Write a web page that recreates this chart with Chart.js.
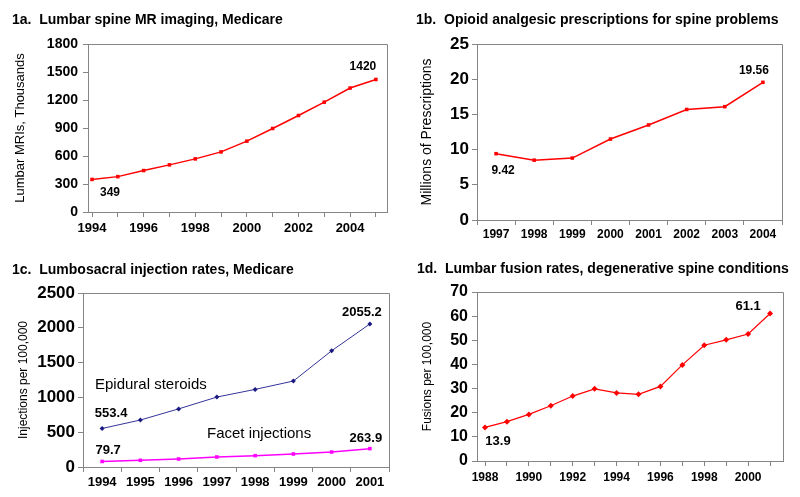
<!DOCTYPE html>
<html>
<head>
<meta charset="utf-8">
<script src="https://cdn.jsdelivr.net/npm/chart.js@4/dist/chart.umd.min.js"></script>
<style>
  body { margin: 0; background: #fff; }
  #wrap { position: relative; width: 800px; height: 497px; overflow: hidden; font-family: "Liberation Sans", Arial, sans-serif; }
  canvas { position: absolute; }
  .ttl { position: absolute; font-weight: bold; font-size: 14px; line-height: 18px; white-space: pre; color: #000; }
  .note { position: absolute; font-size: 15px; line-height: 18px; white-space: pre; color: #000; }
</style>
</head>
<body>
<div id="wrap">
  <canvas id="c1a" width="400" height="248" style="left:0;top:0"></canvas>
  <canvas id="c1b" width="400" height="248" style="left:400px;top:0"></canvas>
  <canvas id="c1c" width="400" height="249" style="left:0;top:248px"></canvas>
  <canvas id="c1d" width="400" height="249" style="left:400px;top:248px"></canvas>
  <div class="ttl" style="left:12px;top:10px">1a.  Lumbar spine MR imaging, Medicare</div>
  <div class="ttl" style="left:416px;top:10px">1b.  Opioid analgesic prescriptions for spine problems</div>
  <div class="ttl" style="left:12px;top:260px">1c.  Lumbosacral injection rates, Medicare</div>
  <div class="ttl" style="left:417px;top:259px">1d.  Lumbar fusion rates, degenerative spine conditions</div>
  <div class="note" style="left:95px;top:375px">Epidural steroids</div>
  <div class="note" style="left:207px;top:424px">Facet injections</div>
</div>
<script>
// 1a
const mriYears = [1994, 1995, 1996, 1997, 1998, 1999, 2000, 2001, 2002, 2003, 2004, 2005];
const mriValues = [349, 379, 444, 505, 569, 644, 759, 895, 1034, 1177, 1328, 1420];
// 1b
const opioidYears = ['1997', '1998', '1999', '2000', '2001', '2002', '2003', '2004'];
const opioidValues = [9.42, 8.5, 8.8, 11.5, 13.5, 15.7, 16.1, 19.56];
// 1c
const injectionYears = ['1994', '1995', '1996', '1997', '1998', '1999', '2000', '2001'];
const epiduralValues = [553.4, 675, 835, 1005, 1115, 1235, 1670, 2055.2];
const facetValues = [79.7, 96, 115, 144, 163, 187, 215, 263.9];
// 1d
const fusionYears = [1988, 1989, 1990, 1991, 1992, 1993, 1994, 1995, 1996, 1997, 1998, 1999, 2000, 2001];
const fusionValues = [13.9, 16.3, 19.3, 22.9, 26.9, 29.9, 28.2, 27.6, 30.9, 39.8, 47.95, 50.2, 52.6, 61.1];

const FONT = '"Liberation Sans", Arial, sans-serif';
const GRAY = '#858585';

// gray frame on top and right of the plot area + end-point value labels
const framePlugin = {
    id: 'frame',
    afterDatasetsDraw(chart) {
        const a = chart.chartArea;
        const ctx = chart.ctx;
        ctx.save();
        ctx.strokeStyle = GRAY;
        ctx.lineWidth = 1;
        ctx.beginPath();
        ctx.moveTo(a.left, a.top + 0.5);
        ctx.lineTo(a.right + 0.5, a.top + 0.5);
        ctx.lineTo(a.right + 0.5, a.bottom);
        ctx.stroke();
        const labels = chart.options.plugins.frame.labels || [];
        ctx.fillStyle = '#000';
        ctx.textAlign = 'center';
        ctx.textBaseline = 'middle';
        labels.forEach(function (l) {
            const pt = chart.getDatasetMeta(l.ds).data[l.i];
            ctx.font = 'bold ' + l.size + 'px ' + FONT;
            ctx.fillText(l.text, pt.x + l.dx, pt.y + l.dy);
        });
        ctx.restore();
    }
};

function yAxis(min, max, step, width, tickSize, pad, title, titleSize, titlePad) {
    return {
        min: min, max: max,
        border: { color: GRAY, width: 1 },
        grid: { drawOnChartArea: false, tickLength: 5, color: GRAY },
        ticks: { stepSize: step, padding: pad, color: '#000', font: { family: FONT, size: tickSize, weight: 'bold' },
            callback: v => String(v) },
        title: { display: true, text: title, color: '#000', padding: { top: titlePad, bottom: 0 }, font: { family: FONT, size: titleSize } },
        afterFit: function (s) { s.width = width; }
    };
}

function xFont(size) {
    return { family: FONT, size: size, weight: 'bold' };
}

// 1a
new Chart(document.getElementById('c1a'), {
    type: 'line',
    data: {
        datasets: [{
            data: mriYears.map((y, i) => ({ x: y, y: mriValues[i] })),
            borderColor: '#ff0000', backgroundColor: '#ff0000', borderWidth: 1.5,
            pointStyle: 'rect', pointRadius: 2.5, pointBorderWidth: 0
        }]
    },
    options: {
        responsive: false, animation: false,
        layout: { padding: { top: 44, right: 13 } },
        plugins: {
            legend: { display: false }, tooltip: { enabled: false },
            frame: { labels: [
                { ds: 0, i: 0, text: '349', dx: 18, dy: 13, size: 12 },
                { ds: 0, i: 11, text: '1420', dx: -13, dy: -13, size: 12 }
            ] }
        },
        scales: {
            x: {
                type: 'linear', min: 1993.845, max: 2005.43,
                border: { color: GRAY },
                grid: { drawOnChartArea: false, tickLength: 5, color: GRAY },
                afterBuildTicks: function (s) { s.ticks = mriYears.map(v => ({ value: v })); },
                ticks: { padding: 4, color: '#000', font: xFont(13), autoSkip: false, maxRotation: 0,
                    callback: v => (v % 2 === 0 ? String(v) : '') },
                afterFit: function (s) { s.height = 36; }
            },
            y: yAxis(0, 1800, 300, 88, 14, 5, 'Lumbar MRIs, Thousands', 13, 13)
        }
    },
    plugins: [framePlugin]
});

// 1b
new Chart(document.getElementById('c1b'), {
    type: 'line',
    data: {
        labels: opioidYears,
        datasets: [{
            data: opioidValues,
            borderColor: '#ff0000', backgroundColor: '#ff0000', borderWidth: 1.5,
            pointStyle: 'rect', pointRadius: 2.5, pointBorderWidth: 0
        }]
    },
    options: {
        responsive: false, animation: false,
        layout: { padding: { top: 44, right: 18 } },
        plugins: {
            legend: { display: false }, tooltip: { enabled: false },
            frame: { labels: [
                { ds: 0, i: 0, text: '9.42', dx: 7, dy: 17, size: 12 },
                { ds: 0, i: 7, text: '19.56', dx: -9, dy: -12, size: 12 }
            ] }
        },
        scales: {
            x: {
                offset: true,
                border: { color: GRAY },
                grid: { drawOnChartArea: false, tickLength: 5, color: GRAY, offset: true },
                ticks: { padding: 2, color: '#000', font: xFont(12), maxRotation: 0 },
                afterFit: function (s) { s.height = 28; }
            },
            y: yAxis(0, 25, 5, 77, 17, 3, 'Millions of Prescriptions', 14, 19)
        }
    },
    plugins: [framePlugin]
});

// 1c
new Chart(document.getElementById('c1c'), {
    type: 'line',
    data: {
        labels: injectionYears,
        datasets: [{
            data: epiduralValues,
            borderColor: '#33339a', backgroundColor: '#1a1a80', borderWidth: 1,
            pointStyle: 'rectRot', pointRadius: 2.5, pointBorderWidth: 0
        }, {
            data: facetValues,
            borderColor: '#ff00ff', backgroundColor: '#ff00ff', borderWidth: 1.5,
            pointStyle: 'rect', pointRadius: 2.5, pointBorderWidth: 0
        }]
    },
    options: {
        responsive: false, animation: false,
        layout: { padding: { top: 45, right: 11 } },
        plugins: {
            legend: { display: false }, tooltip: { enabled: false },
            frame: { labels: [
                { ds: 0, i: 0, text: '553.4', dx: 9, dy: -15, size: 13 },
                { ds: 0, i: 7, text: '2055.2', dx: -8, dy: -12, size: 13 },
                { ds: 1, i: 0, text: '79.7', dx: 6, dy: -11, size: 13 },
                { ds: 1, i: 7, text: '263.9', dx: -4, dy: -10, size: 13 }
            ] }
        },
        scales: {
            x: {
                offset: true,
                border: { color: GRAY },
                grid: { drawOnChartArea: false, tickLength: 5, color: GRAY, offset: true },
                ticks: { padding: 3, color: '#000', font: xFont(13), maxRotation: 0 },
                afterFit: function (s) { s.height = 30; }
            },
            y: yAxis(0, 2500, 500, 83, 17, 3, 'Injections per 100,000', 12, 16)
        }
    },
    plugins: [framePlugin]
});

// 1d
new Chart(document.getElementById('c1d'), {
    type: 'line',
    data: {
        datasets: [{
            data: fusionYears.map((y, i) => ({ x: y, y: fusionValues[i] })),
            borderColor: '#ff0000', backgroundColor: '#ff0000', borderWidth: 1.2,
            pointStyle: 'rectRot', pointRadius: 3, pointBorderWidth: 0
        }]
    },
    options: {
        responsive: false, animation: false,
        layout: { padding: { top: 44, right: 17 } },
        plugins: {
            legend: { display: false }, tooltip: { enabled: false },
            frame: { labels: [
                { ds: 0, i: 0, text: '13.9', dx: 13, dy: 14, size: 13 },
                { ds: 0, i: 13, text: '61.1', dx: -22, dy: -7, size: 13 }
            ] }
        },
        scales: {
            x: {
                type: 'linear', min: 1987.635, max: 2001.59,
                border: { color: GRAY },
                grid: { drawOnChartArea: false, tickLength: 5, color: GRAY },
                afterBuildTicks: function (s) { s.ticks = fusionYears.map(v => ({ value: v })); },
                ticks: { padding: 4, color: '#000', font: xFont(12), autoSkip: false, maxRotation: 0,
                    callback: v => (v % 2 === 0 ? String(v) : '') },
                afterFit: function (s) { s.height = 36; }
            },
            y: yAxis(0, 70, 10, 77, 16, 4, 'Fusions per 100,000', 12, 20)
        }
    },
    plugins: [framePlugin]
});
</script>
</body>
</html>
